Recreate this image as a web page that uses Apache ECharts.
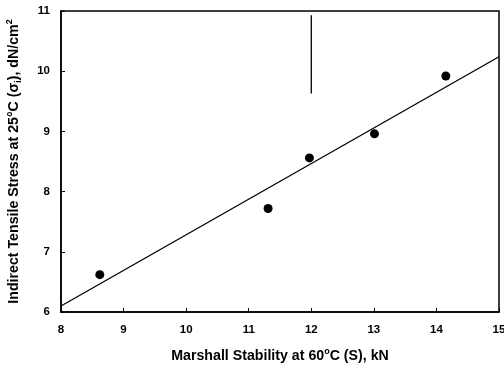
<!DOCTYPE html>
<html>
<head>
<meta charset="utf-8">
<script src="https://cdn.jsdelivr.net/npm/echarts@6/dist/echarts.min.js"></script>
<style>
html,body{margin:0;padding:0;background:#fff;}
#chart{width:504px;height:365px;}
</style>
</head>
<body>
<div id="chart"></div>
<script>
// Measured points: Marshall stability (kN) vs indirect tensile stress (dN/cm2)
var stabilityX = [8.62, 11.31, 11.97, 13.01, 14.15];
var stressY = [6.62, 7.72, 8.56, 8.96, 9.92];
// Regression line end points
var fitX = [8, 15];
var fitY = [6.1, 10.24];
// Vertical scan mark near x = 12
var markX = [12, 12];
var markY = [10.93, 9.63];
// Axis ticks
var xTicks = [8, 9, 10, 11, 12, 13, 14, 15];
var yTicks = [6, 7, 8, 9, 10, 11];

function pairs(xs, ys) { return xs.map(function (x, i) { return [x, ys[i]]; }); }

var FONT = 'Liberation Sans';
var chart = echarts.init(document.getElementById('chart'), null, { renderer: 'canvas' });
var richName = {
  n: { fontFamily: FONT, fontWeight: 'bold', fontSize: 14.2, color: '#000', lineHeight: 18 },
  sup: { fontFamily: FONT, fontWeight: 'bold', fontSize: 9, color: '#000', verticalAlign: 'top', lineHeight: 18, padding: [0, 0, 7, 0] },
  sub: { fontFamily: FONT, fontWeight: 'bold', fontSize: 9, color: '#000', verticalAlign: 'bottom', lineHeight: 18, padding: [5, 0, 0, 0] }
};
chart.setOption({
  animation: false,
  backgroundColor: '#fff',
  grid: { left: 61, right: 5, top: 11, bottom: 53, containLabel: false, outerBoundsMode: 'none', show: true, borderColor: '#000', borderWidth: 1.5, backgroundColor: 'transparent' },
  xAxis: {
    type: 'value', min: xTicks[0], max: xTicks[xTicks.length - 1], interval: 1,
    name: '{n|Marshall Stability at 60}{sup|o}{n|C (S), kN}',
    nameLocation: 'middle', nameGap: 35,
    nameTextStyle: { rich: richName },
    axisLine: { show: true, lineStyle: { color: '#000', width: 1.5 } },
    axisTick: { show: true, inside: true, length: 4, lineStyle: { color: '#000' } },
    axisLabel: { fontFamily: FONT, fontWeight: 'bold', fontSize: 11.5, color: '#000', margin: 12 },
    splitLine: { show: false }
  },
  yAxis: {
    type: 'value', min: yTicks[0], max: yTicks[yTicks.length - 1], interval: 1,
    name: '{n|Indirect Tensile Stress at 25°C (σ}{sub|i}{n|), dN/cm}{sup|2}',
    nameLocation: 'middle', nameGap: 38,
    nameTextStyle: { rich: richName },
    axisLine: { show: true, lineStyle: { color: '#000', width: 1.5 } },
    axisTick: { show: true, inside: true, length: 4, lineStyle: { color: '#000' } },
    axisLabel: { fontFamily: FONT, fontWeight: 'bold', fontSize: 11.5, color: '#000', margin: 11 },
    splitLine: { show: false }
  },
  series: [
    {
      type: 'line', data: pairs(fitX, fitY), symbol: 'none',
      lineStyle: { color: '#000', width: 1.3 }, z: 2
    },
    {
      type: 'line', data: pairs(markX, markY), symbol: 'none',
      lineStyle: { color: '#000', width: 1.3 }, z: 2
    },
    {
      type: 'scatter', data: pairs(stabilityX, stressY), symbol: 'circle', symbolSize: 9,
      itemStyle: { color: '#000', opacity: 1 }, z: 3
    }
  ]
});
</script>
</body>
</html>
